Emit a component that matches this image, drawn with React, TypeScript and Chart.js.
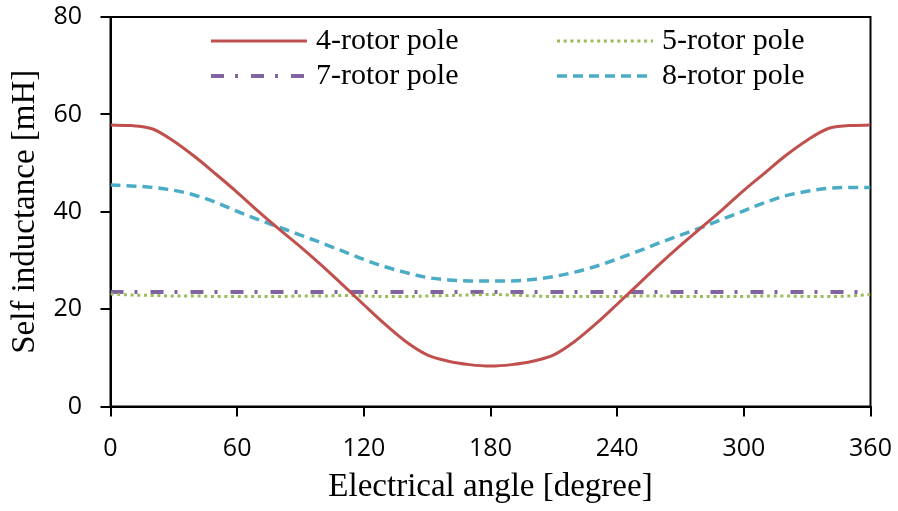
import React, { useEffect, useRef } from "react";
import { Chart, registerables } from "chart.js";

Chart.register(...registerables);

const angles: number[] = [0, 10, 20, 30, 40, 50, 60, 70, 80, 90, 100, 110, 120, 130, 140, 150, 160, 170, 180, 190, 200, 210, 220, 230, 240, 250, 260, 270, 280, 290, 300, 310, 320, 330, 340, 350, 360];

const pole4: number[] = [57.8, 57.7, 57.0, 54.5, 51.3, 47.7, 44.0, 40.1, 36.4, 32.8, 29.0, 25.0, 20.9, 16.9, 13.3, 10.6, 9.3, 8.6, 8.3, 8.6, 9.3, 10.6, 13.4, 17.0, 21.0, 25.1, 29.2, 33.1, 36.8, 40.5, 44.4, 48.0, 51.6, 54.7, 57.1, 57.7, 57.8];

const pole8: number[] = [45.5, 45.3, 45.0, 44.4, 43.4, 41.9, 40.1, 38.4, 36.8, 35.2, 33.6, 31.9, 30.2, 28.7, 27.5, 26.5, 26.0, 25.8, 25.8, 25.8, 26.1, 26.7, 27.6, 28.8, 30.3, 31.9, 33.6, 35.2, 36.8, 38.5, 40.2, 41.9, 43.3, 44.2, 44.8, 45.0, 45.0];

const pole5: number[] = [23.1, 22.9, 22.8, 22.7, 22.7, 22.6, 22.6, 22.6, 22.6, 22.7, 22.7, 22.8, 22.7, 22.6, 22.6, 22.7, 22.8, 22.9, 23.0, 22.9, 22.7, 22.6, 22.6, 22.6, 22.6, 22.7, 22.7, 22.6, 22.6, 22.6, 22.6, 22.7, 22.7, 22.6, 22.6, 22.7, 23.0];

const pole7: number[] = [23.5, 23.5, 23.5, 23.5, 23.5, 23.5, 23.5, 23.5, 23.5, 23.5, 23.5, 23.5, 23.5, 23.5, 23.5, 23.5, 23.5, 23.5, 23.5, 23.5, 23.5, 23.5, 23.5, 23.5, 23.5, 23.5, 23.5, 23.5, 23.5, 23.5, 23.5, 23.5, 23.5, 23.5, 23.5, 23.5, 23.5];

const seriesLabels: string[] = ["4-rotor pole", "5-rotor pole", "7-rotor pole", "8-rotor pole"];

const xTitle = "Electrical angle [degree]";
const yTitle = "Self inductance [mH]";

const toPts = (vals: number[]) => vals.map((v, i) => ({ x: angles[i], y: v }));

const boxPlugin = {
  id: "plotBox",
  beforeDatasetsDraw(chart: any) {
    const { ctx, chartArea } = chart;
    ctx.save();
    ctx.strokeStyle = "#000";
    ctx.lineWidth = 2;
    ctx.strokeRect(chartArea.left, chartArea.top, chartArea.right - chartArea.left, chartArea.bottom - chartArea.top);
    ctx.restore();
  },
};

const legendPlugin = {
  id: "customLegend",
  afterDraw(chart: any) {
    const { ctx } = chart;
    const cols = [211, 557];
    const rows = [41, 76];
    const lineLen = 96;
    chart.data.datasets.forEach((ds: any, i: number) => {
      const x = cols[i % 2];
      const y = rows[Math.floor(i / 2)];
      ctx.save();
      ctx.strokeStyle = ds.borderColor;
      ctx.lineWidth = ds.borderWidth;
      ctx.lineCap = "butt";
      ctx.setLineDash(ds.borderDash || []);
      ctx.beginPath();
      ctx.moveTo(x, y);
      ctx.lineTo(x + lineLen, y);
      ctx.stroke();
      ctx.setLineDash([]);
      ctx.fillStyle = "#000";
      ctx.font = "30px 'Liberation Serif'";
      ctx.textBaseline = "middle";
      ctx.textAlign = "left";
      ctx.fillText(ds.label, x + lineLen + 9, y);
      ctx.restore();
    });
  },
};

export default function App() {
  const ref = useRef<HTMLCanvasElement | null>(null);
  useEffect(() => {
    document.body.style.margin = "0";
    if (!ref.current) return;
    const chart = new Chart(ref.current, {
      type: "line",
      data: {
        datasets: [
          {
            label: seriesLabels[0],
            data: toPts(pole4),
            borderColor: "#C0504D",
            borderWidth: 3,
            pointRadius: 0,
            cubicInterpolationMode: "monotone",
          },
          {
            label: seriesLabels[1],
            data: toPts(pole5),
            borderColor: "#9BBB59",
            borderWidth: 3,
            borderDash: [3, 3.7],
            pointRadius: 0,
            cubicInterpolationMode: "monotone",
          },
          {
            label: seriesLabels[2],
            data: toPts(pole7),
            borderColor: "#8064A2",
            borderWidth: 4,
            borderDash: [13, 11, 3, 13],
            pointRadius: 0,
          },
          {
            label: seriesLabels[3],
            data: toPts(pole8),
            borderColor: "#4BACC6",
            borderWidth: 3.5,
            borderDash: [10, 6],
            pointRadius: 0,
            cubicInterpolationMode: "monotone",
          },
        ],
      },
      options: {
        animation: false,
        responsive: false,
        maintainAspectRatio: false,
        layout: { padding: { left: 0, top: 17, right: 27.5, bottom: 0 } },
        plugins: { legend: { display: false }, tooltip: { enabled: false } },
        scales: {
          x: {
            type: "linear",
            min: 0,
            max: 360,
            afterFit: (s: any) => {
              s.height = 104.5;
              s.paddingLeft = 0;
              s.paddingRight = 0;
            },
            ticks: {
              stepSize: 60,
              padding: 17,
              color: "#000",
              font: { family: "'Open Sans'", size: 25 },
              maxRotation: 0,
            },
            grid: { drawOnChartArea: false, drawTicks: true, tickLength: 10, color: "#000", lineWidth: 2 },
            border: { display: true, color: "#000", width: 2 },
            title: {
              display: true,
              text: xTitle,
              color: "#000",
              font: { family: "'Liberation Serif'", size: 33 },
              padding: { top: 0, bottom: 4 },
            },
          },
          y: {
            type: "linear",
            min: 0,
            max: 80,
            afterFit: (s: any) => {
              s.width = 110.5;
              s.paddingTop = 0;
              s.paddingBottom = 0;
            },
            ticks: {
              stepSize: 20,
              padding: 18.5,
              color: "#000",
              font: { family: "'Open Sans'", size: 25 },
            },
            grid: { drawOnChartArea: false, drawTicks: true, tickLength: 10, color: "#000", lineWidth: 2 },
            border: { display: true, color: "#000", width: 2 },
            title: {
              display: true,
              text: yTitle,
              color: "#000",
              font: { family: "'Liberation Serif'", size: 33 },
              padding: { top: 6, bottom: 0 },
            },
          },
        },
      } as any,
      plugins: [boxPlugin, legendPlugin],
    });
    return () => chart.destroy();
  }, []);
  return (
    <div style={{ width: 898, height: 511, background: "#fff" }}>
      <canvas ref={ref} width={898} height={511} style={{ display: "block" }} />
    </div>
  );
}
